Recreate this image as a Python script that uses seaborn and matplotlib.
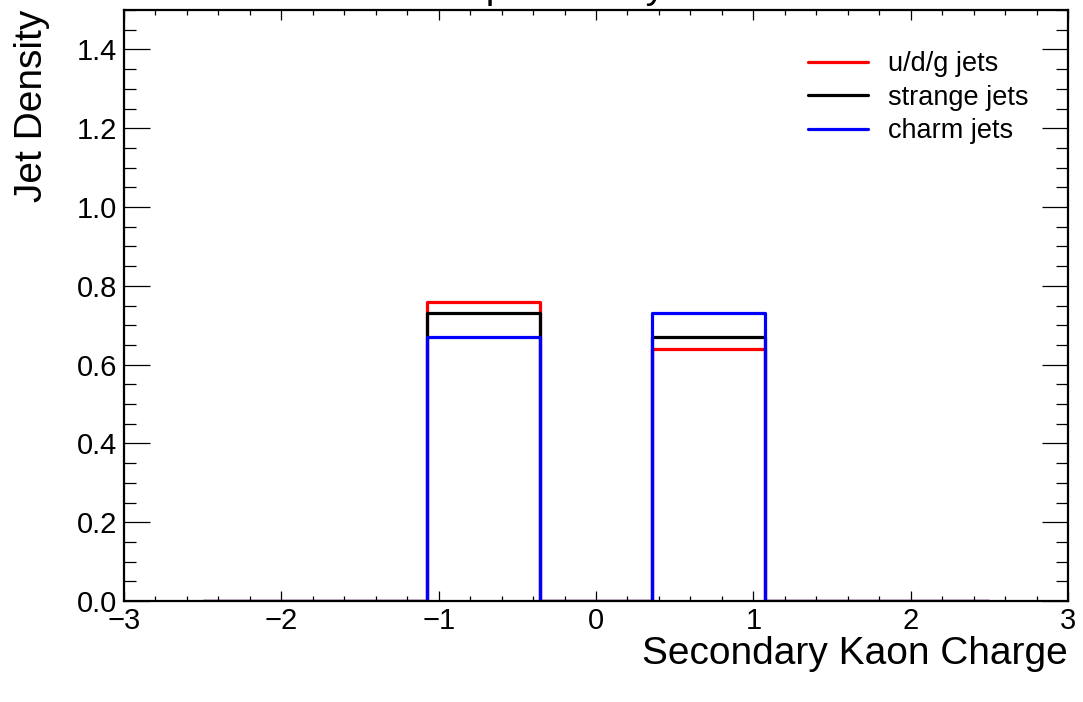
import numpy as np
import pandas as pd
import matplotlib
matplotlib.use("Agg")
import matplotlib.pyplot as plt
import seaborn as sns
from matplotlib.ticker import MultipleLocator
from matplotlib.lines import Line2D

# data
bin_edges = [-2.5, -1.7857, -1.0714, -0.3571, 0.3571, 1.0714, 1.7857, 2.5]
series_names = ["u/d/g jets", "strange jets", "charm jets"]
udg_density = [0.0, 0.0, 0.76, 0.0, 0.64, 0.0, 0.0]
strange_density = [0.0, 0.0, 0.73, 0.0, 0.67, 0.0, 0.0]
charm_density = [0.0, 0.0, 0.67, 0.0, 0.73, 0.0, 0.0]
colors = ["#ff0000", "#000000", "#0000ff"]
title_text = "Kaon Comparison by Flavor"
xlabel_text = "Secondary Kaon Charge"
ylabel_text = "Jet Density"

sns.set_style("ticks")
plt.rcParams['font.family'] = ['Liberation Sans', 'DejaVu Sans']
for k in ["text.color", "axes.labelcolor", "xtick.color", "ytick.color", "axes.edgecolor"]:
    plt.rcParams[k] = "black"

W, H = 1083, 702
fig = plt.figure(figsize=(W / 100, H / 100), dpi=100)
ax = fig.add_axes([124/W, 1 - 601/H, (1068-124)/W, (601-10)/H])

edges = np.array(bin_edges)
centers = (edges[:-1] + edges[1:]) / 2
for name, vals, col in zip(series_names, [udg_density, strange_density, charm_density], colors):
    df = pd.DataFrame({"x": centers, "w": vals})
    sns.histplot(data=df, x="x", weights="w", bins=list(bin_edges), element="step",
                 fill=False, color=col, linewidth=2.3, ax=ax, stat="count")

ax.set_xlim(-3, 3)
ax.set_ylim(0, 1.5)
ax.xaxis.set_major_locator(MultipleLocator(1))
ax.xaxis.set_minor_locator(MultipleLocator(0.2))
ax.yaxis.set_major_locator(MultipleLocator(0.2))
ax.yaxis.set_minor_locator(MultipleLocator(0.05))
ax.yaxis.set_major_formatter(matplotlib.ticker.FormatStrFormatter('%.1f'))
ax.tick_params(which="both", direction="in", top=True, right=True, labelsize=21, width=0.9, color="black")
ax.tick_params(axis="x", which="major", length=7, pad=4)
ax.tick_params(axis="x", which="minor", length=3.6)
ax.tick_params(axis="y", which="major", length=19, pad=5)
ax.tick_params(axis="y", which="minor", length=8.6)
for s in ax.spines.values():
    s.set_linewidth(1.6)
    s.set_color("black")

ax.set_xlabel("")
ax.set_ylabel("")
fig.text(1068/W, 1 - 664/H, xlabel_text, ha="right", va="baseline", fontsize=28)
fig.text(32/W, 1 - 10/H, ylabel_text, ha="center", va="top", rotation=90, fontsize=28)

# title: mostly above the canvas, only descenders visible
renderer = fig.canvas.get_renderer()
prefix = title_text[:title_text.index("p")]
tmp = fig.text(0, 0, prefix, fontsize=28)
pw = tmp.get_window_extent(renderer).width
tmp.remove()
fig.text((486 - pw)/W, 1 + 2/H, title_text, ha="left", va="baseline", fontsize=28)

handles = [Line2D([0], [0], color=c, lw=2.3) for c in colors]
ax.legend(handles, series_names, loc="upper left", bbox_to_anchor=((808 - 124)/(1068 - 124), 1 - (51 - 10)/(601 - 10)),
          frameon=False, fontsize=19.5, handlelength=2.2, handletextpad=0.75, labelspacing=0.28,
          borderpad=0, borderaxespad=0)

fig.savefig("out.png", dpi=100, facecolor="white")
